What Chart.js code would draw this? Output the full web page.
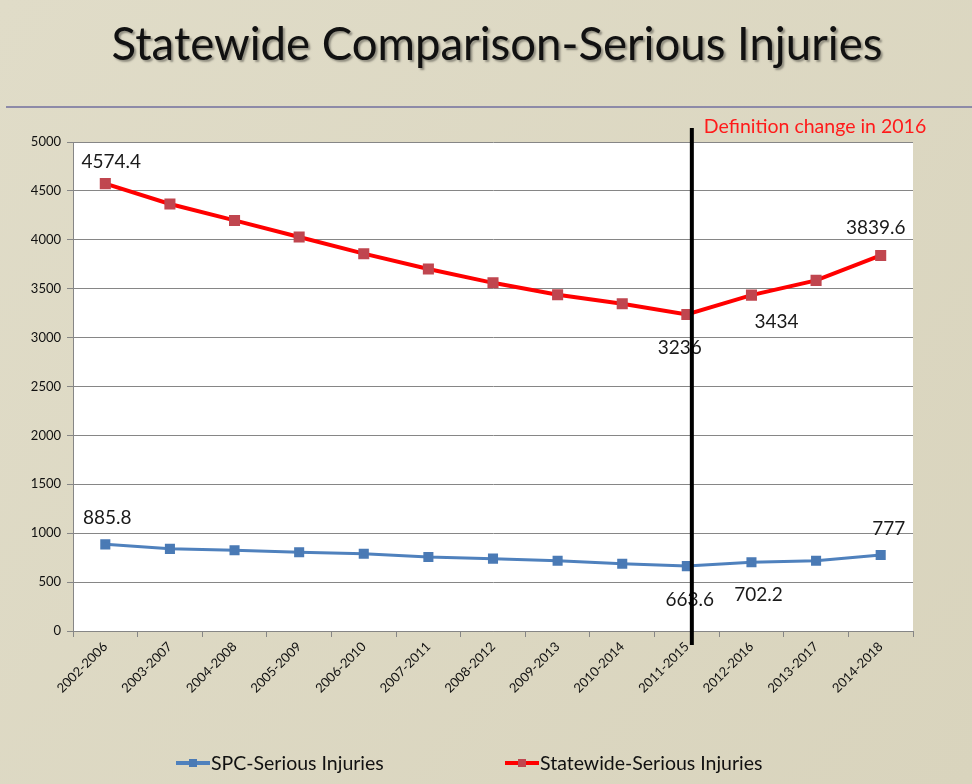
<!DOCTYPE html>
<html>
<head>
<meta charset="utf-8">
<script src="https://cdn.jsdelivr.net/npm/chart.js@4.4.1/dist/chart.umd.min.js"></script>
<style>
  html, body { margin: 0; padding: 0; background: #ddd9c4; }
  #wrap { width: 972px; height: 784px; }
</style>
</head>
<body>
<div id="wrap"><canvas id="chart" width="972" height="784"></canvas></div>
<script>
// data
const periods = ['2002-2006', '2003-2007', '2004-2008', '2005-2009', '2006-2010', '2007-2011',
  '2008-2012', '2009-2013', '2010-2014', '2011-2015', '2012-2016', '2013-2017', '2014-2018'];
const spcInjuries = [885.8, 840, 825, 805, 790, 757, 740, 718, 688, 663.6, 702.2, 718, 777];
const statewideInjuries = [4574.4, 4366, 4198, 4029, 3858, 3701, 3560, 3439, 3347, 3236, 3434, 3585, 3839.6];
const yMax = 5000;
const yStep = 500;
const labelledPoints = [0, 9, 10, 12];
const changeIndex = 9;
const changeNote = 'Definition change in 2016';
const chartTitle = 'Statewide Comparison-Serious Injuries';

const FONT = 'Lato, "Open Sans", sans-serif';

// label offsets from the point, [dx, dy] per labelled index
const labelOffsets = {
  0: [[2, -26], [6, -22]],
  9: [[3, 34], [-7, 33]],
  10: [[7, 33], [25, 27]],
  12: [[8, -26], [-5, -28]]
};

const decorations = {
  id: 'decorations',
  beforeDraw(chart) {
    const ctx = chart.ctx;
    const a = chart.chartArea;
    ctx.save();
    const bg = ctx.createLinearGradient(0, 0, 972, 784);
    bg.addColorStop(0, '#e0dcc8');
    bg.addColorStop(1, '#d9d4bd');
    ctx.fillStyle = bg;
    ctx.fillRect(0, 0, chart.width, chart.height);

    // plot area
    ctx.fillStyle = '#ffffff';
    ctx.fillRect(a.left, a.top, a.right - a.left, a.bottom - a.top);

    // title, sized to the reference width
    let size = 48;
    ctx.font = size + 'px ' + FONT;
    size = size * 771 / ctx.measureText(chartTitle).width;
    ctx.font = size + 'px ' + FONT;
    ctx.textAlign = 'center';
    ctx.textBaseline = 'alphabetic';
    ctx.shadowColor = 'rgba(0,0,0,0.35)';
    ctx.shadowOffsetX = 2;
    ctx.shadowOffsetY = 2;
    ctx.shadowBlur = 2;
    ctx.fillStyle = '#111111';
    ctx.fillText(chartTitle, 497, 60);
    ctx.shadowColor = 'transparent';

    // separator under title
    ctx.strokeStyle = '#8d8aa8';
    ctx.lineWidth = 2;
    ctx.beginPath();
    ctx.moveTo(6, 107);
    ctx.lineTo(972, 107);
    ctx.stroke();
    ctx.restore();
  },
  afterDatasetsDraw(chart) {
    const ctx = chart.ctx;
    const x = chart.scales.x;
    ctx.save();

    // value labels
    ctx.font = '19px ' + FONT;
    ctx.fillStyle = '#1a1a1a';
    ctx.textAlign = 'center';
    ctx.textBaseline = 'middle';
    chart.data.datasets.forEach((ds, di) => {
      const meta = chart.getDatasetMeta(di);
      labelledPoints.forEach(i => {
        const p = meta.data[i];
        const off = labelOffsets[i][di];
        ctx.fillText(String(ds.data[i]), p.x + off[0], p.y + off[1]);
      });
    });

    // definition change marker
    const lx = x.getPixelForValue(changeIndex) + 5;
    ctx.strokeStyle = '#000000';
    ctx.lineWidth = 4;
    ctx.beginPath();
    ctx.moveTo(lx, 128);
    ctx.lineTo(lx, 645);
    ctx.stroke();
    ctx.font = '19.5px ' + FONT;
    ctx.fillStyle = '#ff1a1a';
    ctx.textAlign = 'left';
    ctx.fillText(changeNote, lx + 12, 127);

    // legend
    const legendX = [176, 505];
    chart.data.datasets.forEach((ds, di) => {
      const x0 = legendX[di], y0 = 763;
      ctx.strokeStyle = ds.borderColor;
      ctx.lineWidth = 4;
      ctx.beginPath();
      ctx.moveTo(x0, y0);
      ctx.lineTo(x0 + 34, y0);
      ctx.stroke();
      ctx.fillStyle = ds.pointBackgroundColor;
      ctx.fillRect(x0 + 13, y0 - 4, 8, 8);
      ctx.font = '19.5px ' + FONT;
      ctx.fillStyle = '#111111';
      ctx.textAlign = 'left';
      ctx.fillText(ds.label, x0 + 35, y0 + 1);
    });
    ctx.restore();
  }
};

new Chart(document.getElementById('chart'), {
  type: 'line',
  data: {
    labels: periods,
    datasets: [{
      label: 'SPC-Serious Injuries',
      data: spcInjuries,
      borderColor: '#4f81bd',
      borderWidth: 3,
      pointStyle: 'rect',
      pointRadius: 5,
      pointBackgroundColor: '#4a7ab5',
      pointBorderColor: '#4a7ab5',
      tension: 0
    }, {
      label: 'Statewide-Serious Injuries',
      data: statewideInjuries,
      borderColor: '#ff0000',
      borderWidth: 4,
      pointStyle: 'rect',
      pointRadius: 5,
      pointBackgroundColor: '#c0464f',
      pointBorderColor: '#c0464f',
      tension: 0
    }]
  },
  options: {
    responsive: false,
    animation: false,
    layout: { padding: { top: 142, left: 0, right: 59, bottom: 63 } },
    plugins: {
      legend: { display: false },
      title: { display: false },
      tooltip: { enabled: false }
    },
    scales: {
      x: {
        offset: true,
        afterFit: s => { s.height = 90; },
        grid: { offset: true, drawOnChartArea: false, tickLength: 6, color: '#868686' },
        border: { color: '#868686' },
        ticks: { minRotation: 45, maxRotation: 45, color: '#111', font: { family: FONT, size: 13 }, padding: 2 }
      },
      y: {
        min: 0,
        max: yMax,
        afterFit: s => { s.width = 73; },
        grid: { color: '#868686', tickLength: 6 },
        border: { color: '#868686' },
        ticks: {
          stepSize: yStep,
          color: '#111',
          font: { family: FONT, size: 13 },
          padding: 6,
          callback: v => String(v)
        }
      }
    }
  },
  plugins: [decorations]
});
</script>
</body>
</html>
